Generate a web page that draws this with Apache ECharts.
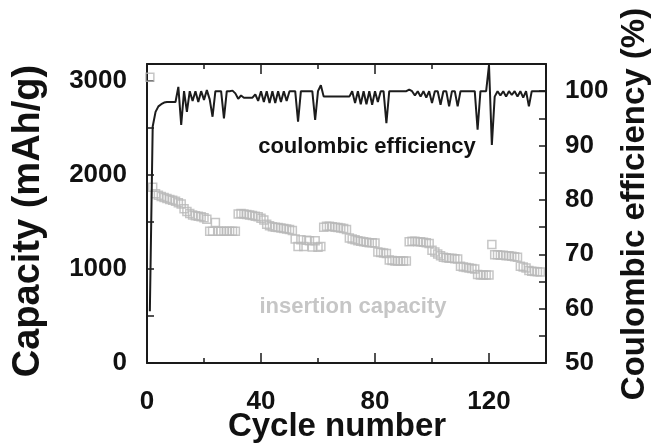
<!DOCTYPE html>
<html><head><meta charset="utf-8">
<script src="https://cdn.jsdelivr.net/npm/echarts@6/dist/echarts.min.js"></script>
<style>html,body{margin:0;padding:0;background:#fff}#c{width:653px;height:448px}</style>
</head><body><div id="c"></div>
<script>
// Insertion capacity (mAh/g), cycles 1..138
const capacity = [
 3040,1870,1800,1785,1770,1760,1750,1740,1730,1720,
 1705,1690,1640,1610,1590,1575,1565,1560,1555,1545,
 1530,1400,1400,1495,1400,1400,1400,1400,1400,1400,
 1400,1585,1590,1585,1580,1575,1570,1560,1555,1540,
 1520,1475,1460,1450,1445,1440,1435,1430,1425,1420,
 1410,1320,1240,1310,1240,1305,1300,1235,1300,1230,
 1240,1445,1455,1455,1450,1445,1440,1435,1430,1420,
 1330,1320,1310,1300,1295,1290,1285,1280,1280,1275,
 1180,1175,1170,1165,1095,1090,1085,1085,1085,1085,
 1085,1290,1295,1295,1290,1290,1285,1280,1270,1200,
 1180,1160,1140,1125,1120,1115,1115,1110,1105,1030,
 1020,1015,1010,1005,1000,940,935,935,935,935,
 1260,1150,1150,1145,1145,1140,1140,1135,1130,1125,
 1030,1020,1010,985,975,972,970,968
];
// Coulombic efficiency (%), cycles 1..140
const efficiency = [
 59.5,93.5,96.2,97.2,97.6,97.9,98.0,98.0,98.0,98.0,
 100.8,93.8,100.0,96.2,100.0,98.2,100.0,98.0,100.0,98.4,
 100.2,98.5,95.3,100.0,100.0,100.0,95.0,100.0,100.0,100.1,
 99.6,98.6,99.2,98.8,98.8,98.8,98.8,99.4,98.2,100.0,
 98.0,100.0,97.8,100.0,97.8,100.0,98.0,100.0,98.2,100.0,
 100.0,100.0,94.4,100.0,100.0,100.0,100.0,100.0,94.7,100.0,
 101.1,99.0,99.0,99.0,99.0,99.0,99.0,99.0,99.0,99.0,
 99.0,100.0,97.8,100.0,97.6,100.0,97.6,100.0,97.5,100.0,
 98.0,100.0,100.0,94.1,100.0,100.0,100.0,100.0,100.0,100.0,
 100.0,100.3,100.0,99.2,100.0,99.0,100.0,98.8,100.0,97.8,
 100.0,100.0,97.5,100.0,100.0,97.2,100.0,100.0,97.2,100.0,
 100.0,100.0,100.0,100.0,100.0,92.9,100.0,100.0,100.0,104.8,
 90.1,99.0,100.0,99.2,100.0,99.0,100.0,99.3,100.0,99.0,
 100.0,98.8,100.0,97.2,100.0,100.0,100.0,100.0,100.0,100.0
];
const xTickLabels = [0, 40, 80, 120];
const capTickLabels = [0, 1000, 2000, 3000];
const effTickLabels = [50, 60, 70, 80, 90, 100];
const texts = {
  xTitle: 'Cycle number',
  yLeftTitle: 'Capacity (mAh/g)',
  yRightTitle: 'Coulombic efficiency (%)',
  effLabel: 'coulombic efficiency',
  capLabel: 'insertion capacity'
};

const FONT = '"Liberation Sans", Arial, sans-serif';
const AX = '#1a1a1a';
const chart = echarts.init(document.getElementById('c'), null, {renderer: 'canvas'});

function xAx(pos, interval, len, showLine, showLabel) {
  return {
    type: 'value', position: pos, min: 0, max: 140, interval: interval,
    axisLine: {show: showLine, onZero: false, lineStyle: {color: AX, width: 2}},
    axisTick: {show: true, inside: true, length: len, lineStyle: {color: AX, width: 1.5}},
    axisLabel: showLabel ? {
      show: true, margin: 26, fontSize: 26, fontWeight: 'bold', fontFamily: FONT, color: '#111',
      formatter: v => xTickLabels.includes(v) ? String(v) : ''
    } : {show: false},
    splitLine: {show: false}
  };
}

const option = {
  animation: false,
  backgroundColor: '#fff',
  grid: {left: 147, right: 107, top: 64, bottom: 85, containLabel: false, outerBoundsMode: 'none'},
  xAxis: [
    xAx('bottom', 20, 5, true, true),
    xAx('bottom', 40, 10, false, false),
    xAx('top', 20, 5, true, false),
    xAx('top', 40, 10, false, false)
  ],
  yAxis: [
    {
      type: 'value', position: 'left', min: 0, max: 3180, interval: 500,
      axisLine: {show: true, onZero: false, lineStyle: {color: AX, width: 2}},
      axisTick: {show: true, inside: true, length: 7, lineStyle: {color: AX, width: 1.5}},
      axisLabel: {margin: 20, fontSize: 26, fontWeight: 'bold', fontFamily: FONT, color: '#111',
        formatter: v => capTickLabels.includes(v) ? String(v) : ''},
      splitLine: {show: false}
    },
    {
      type: 'value', position: 'right', min: 50, max: 105, interval: 5,
      axisLine: {show: true, onZero: false, lineStyle: {color: AX, width: 2}},
      axisTick: {show: true, inside: true, length: 7, lineStyle: {color: AX, width: 1.5}},
      axisLabel: {margin: 19, fontSize: 26, fontWeight: 'bold', fontFamily: FONT, color: '#111',
        formatter: v => effTickLabels.includes(v) ? String(v) : ''},
      splitLine: {show: false}
    }
  ],
  series: [
    {
      type: 'scatter', xAxisIndex: 0, yAxisIndex: 0,
      data: capacity.map((v, i) => [i + 1, v]),
      symbol: 'rect', symbolSize: 8,
      itemStyle: {color: 'rgba(255,255,255,0)', borderColor: '#b8b8b8', borderWidth: 1.5},
      silent: true, z: 2
    },
    {
      type: 'line', xAxisIndex: 0, yAxisIndex: 1,
      data: efficiency.map((v, i) => [i + 1, v]),
      symbol: 'none', showSymbol: false, clip: true,
      lineStyle: {color: '#1c1c1c', width: 2},
      silent: true, z: 3
    }
  ],
  graphic: [
    {type: 'text', x: 367, y: 147, style: {text: texts.effLabel, font: 'bold 22px ' + FONT, fill: '#111', align: 'center', verticalAlign: 'middle'}},
    {type: 'text', x: 353, y: 307, style: {text: texts.capLabel, font: 'bold 22px ' + FONT, fill: '#c6c6c6', align: 'center', verticalAlign: 'middle'}},
    {type: 'text', x: 337, y: 427, style: {text: texts.xTitle, font: 'bold 33px ' + FONT, fill: '#111', align: 'center', verticalAlign: 'middle'}},
    {type: 'text', x: 29, y: 221, rotation: Math.PI / 2, style: {text: texts.yLeftTitle, font: 'bold 38px ' + FONT, fill: '#111', align: 'center', verticalAlign: 'middle'}},
    {type: 'text', x: 635, y: 204, rotation: Math.PI / 2, style: {text: texts.yRightTitle, font: 'bold 33px ' + FONT, fill: '#111', align: 'center', verticalAlign: 'middle'}}
  ]
};
chart.setOption(option);
</script>
</body></html>
